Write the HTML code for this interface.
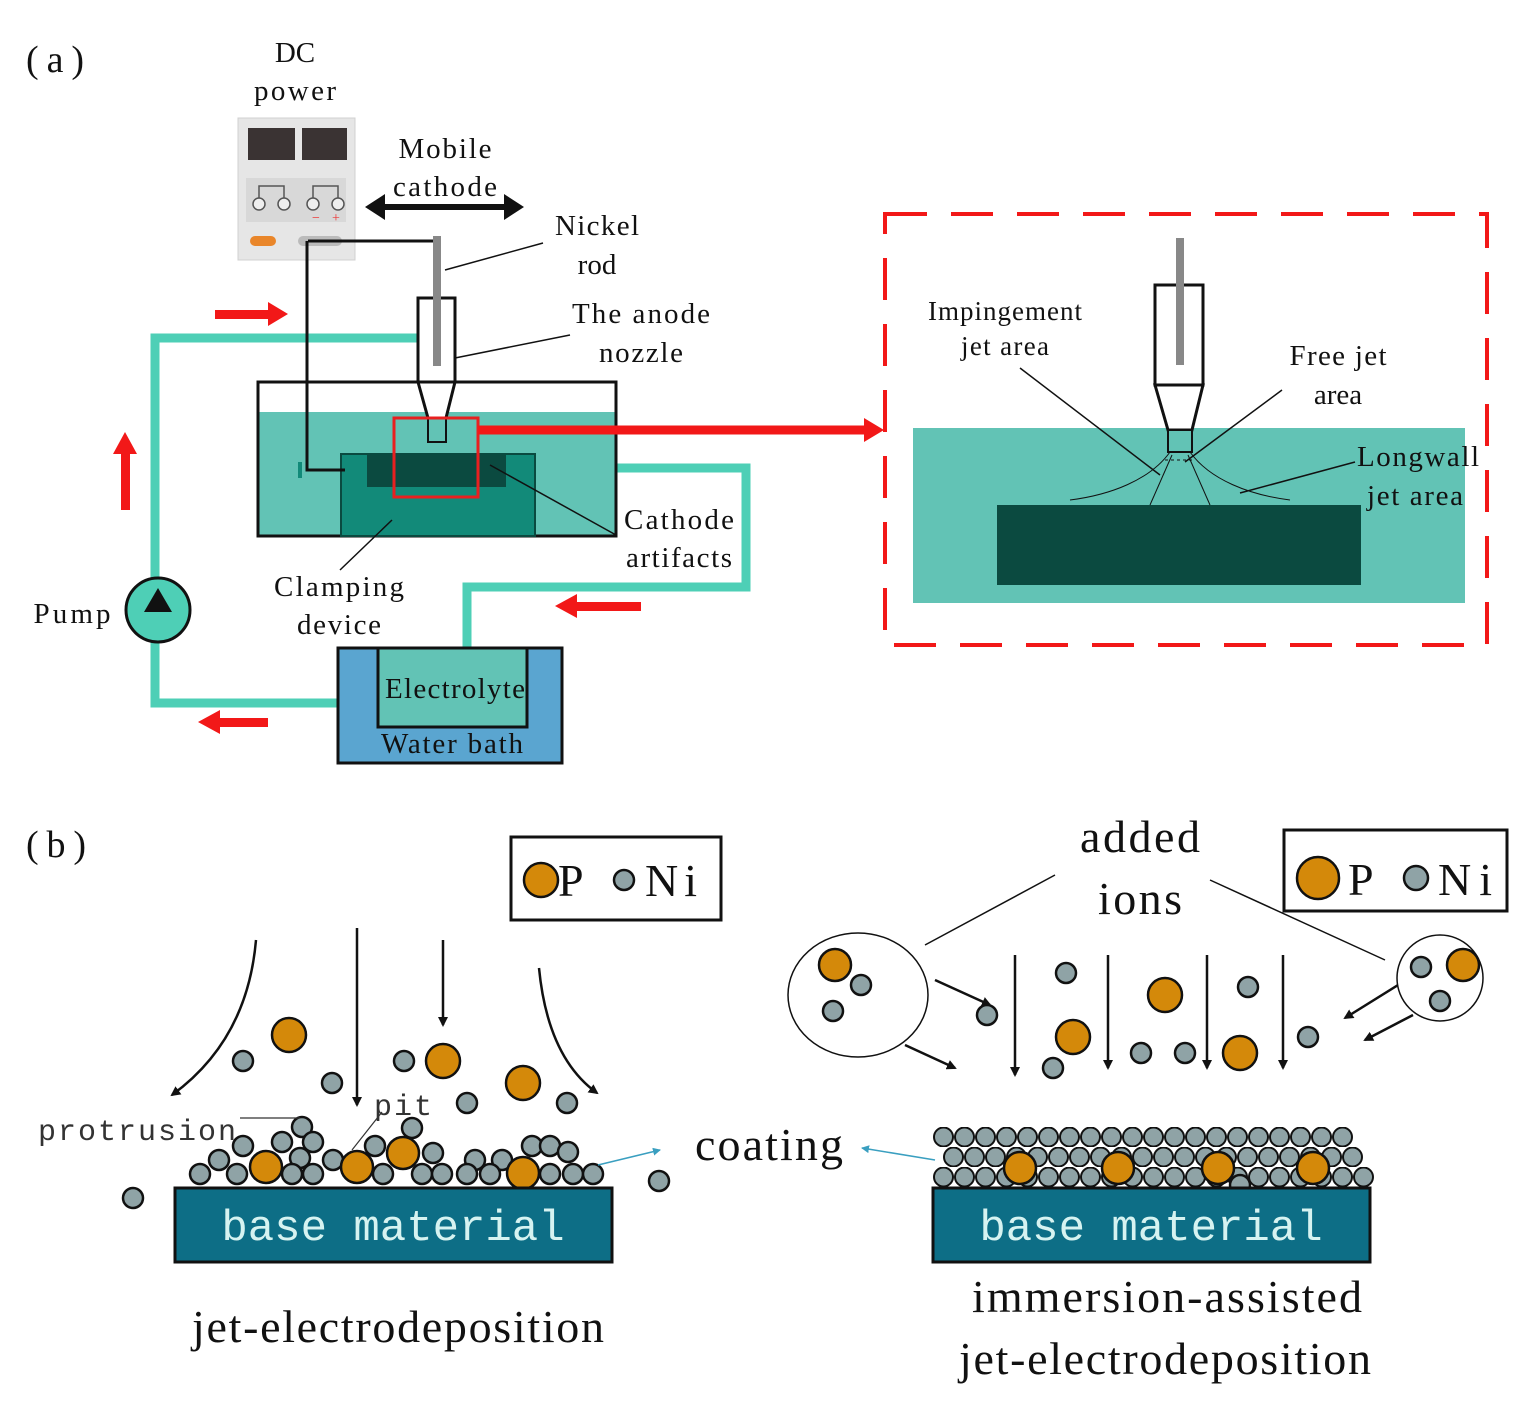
<!DOCTYPE html>
<html><head><meta charset="utf-8"><style>
html,body{margin:0;padding:0;background:#fff;}
svg{display:block;}
text{font-family:"Liberation Serif",serif;fill:#111;}
.m{font-family:"Liberation Mono",monospace;}
</style></head><body>
<svg width="1540" height="1417" viewBox="0 0 1540 1417" xmlns="http://www.w3.org/2000/svg">
<defs>
<marker id="ab" markerWidth="10" markerHeight="10" refX="8" refY="5" orient="auto" markerUnits="userSpaceOnUse"><path d="M0,0 L10,5 L0,10 Z" fill="#111"/></marker>
<marker id="at" markerWidth="8" markerHeight="8" refX="7" refY="4" orient="auto" markerUnits="userSpaceOnUse"><path d="M0,0 L8,4 L0,8 Z" fill="#3a9fc0"/></marker>
<pattern id="ni1" x="933" y="1167" width="21" height="20" patternUnits="userSpaceOnUse"><circle cx="10.5" cy="10" r="9.5" fill="#8fa3a6" stroke="#111" stroke-width="2"/></pattern>
<pattern id="ni2" x="943" y="1127" width="21" height="20" patternUnits="userSpaceOnUse"><circle cx="10.5" cy="10" r="9.5" fill="#8fa3a6" stroke="#111" stroke-width="2"/></pattern>
</defs>

<!-- (a) -->
<text x="26" y="72" font-size="38" textLength="58">(a)</text>
<text x="295" y="62" font-size="29" text-anchor="middle">DC</text>
<text x="295" y="100" font-size="29" text-anchor="middle" textLength="82">power</text>
<rect x="238" y="118" width="117" height="142" fill="#e6e6e6" stroke="#d0d0d0"/>
<rect x="248" y="128" width="47" height="32" fill="#3a3333"/>
<rect x="302" y="128" width="45" height="32" fill="#3a3333"/>
<rect x="246" y="178" width="100" height="44" fill="#d8d8d8"/>
<g stroke="#555" fill="#eee" stroke-width="1.5"><path d="M259,198 v-12 h25 v12" fill="none"/><path d="M313,198 v-12 h25 v12" fill="none"/>
<circle cx="259" cy="204" r="6"/><circle cx="284" cy="204" r="6"/><circle cx="313" cy="204" r="6"/><circle cx="338" cy="204" r="6"/></g>
<text x="312" y="222" font-size="14" style="fill:#e33">−</text><text x="332" y="222" font-size="14" style="fill:#e33">+</text>
<rect x="250" y="236" width="26" height="10" rx="5" fill="#e9862a"/>
<rect x="298" y="236" width="44" height="10" rx="5" fill="#bbb"/>

<text x="445" y="158" font-size="29" text-anchor="middle" textLength="93">Mobile</text>
<text x="445" y="196" font-size="29" text-anchor="middle" textLength="104">cathode</text>
<line x1="380" y1="207" x2="510" y2="207" stroke="#111" stroke-width="6"/>
<path d="M365,207 L385,194 L385,220 Z M524,207 L504,194 L504,220 Z" fill="#111"/>

<g fill="none" stroke="#4ecfb6" stroke-width="9">
<path d="M418,338 H155 V703 H382"/>
<path d="M617,468 H746 V587 H467 V652"/>
</g>
<rect x="258" y="412" width="358" height="124" fill="#62c3b5"/>
<rect x="258" y="382" width="358" height="154" fill="none" stroke="#111" stroke-width="3"/>
<rect x="341" y="454" width="194" height="82" fill="#128a79" stroke="#0a4a40" stroke-width="2"/>
<rect x="367" y="455" width="139" height="32" fill="#0b4a40"/>
<path d="M307,241 V470 H345" fill="none" stroke="#111" stroke-width="3"/>
<line x1="300" y1="462" x2="300" y2="478" stroke="#128a79" stroke-width="4"/>
<path d="M308,241 H437" fill="none" stroke="#111" stroke-width="3"/>
<rect x="418" y="298" width="37" height="84" fill="#fff" stroke="#111" stroke-width="3"/>
<rect x="433" y="236" width="8" height="130" fill="#888"/>
<path d="M418,382 L428,418 L446,418 L455,382 Z" fill="#fff" stroke="#111" stroke-width="3"/>
<rect x="428" y="418" width="18" height="24" fill="#62c3b5" stroke="#111" stroke-width="2"/>
<rect x="394" y="418" width="84" height="79" fill="none" stroke="#e82020" stroke-width="3"/>
<line x1="478" y1="430" x2="866" y2="430" stroke="#f21818" stroke-width="9"/>
<path d="M864,418 L884,430 L864,442 Z" fill="#f21818"/>
<g stroke="#111" stroke-width="1.5">
<line x1="445" y1="270" x2="543" y2="243"/>
<line x1="455" y1="358" x2="570" y2="335"/>
<line x1="490" y1="465" x2="616" y2="535"/>
<line x1="392" y1="520" x2="340" y2="570"/>
</g>
<text x="597" y="235" font-size="29" text-anchor="middle" textLength="84">Nickel</text>
<text x="597" y="274" font-size="29" text-anchor="middle">rod</text>
<text x="641" y="323" font-size="29" text-anchor="middle" textLength="138">The anode</text>
<text x="641" y="362" font-size="29" text-anchor="middle" textLength="84">nozzle</text>
<text x="679" y="529" font-size="29" text-anchor="middle" textLength="110">Cathode</text>
<text x="679" y="567" font-size="29" text-anchor="middle" textLength="106">artifacts</text>
<text x="339" y="596" font-size="29" text-anchor="middle" textLength="130">Clamping</text>
<text x="339" y="634" font-size="29" text-anchor="middle" textLength="84">device</text>
<text x="72" y="623" font-size="29" text-anchor="middle" textLength="77">Pump</text>
<circle cx="158" cy="610" r="32" fill="#4ecfb6" stroke="#111" stroke-width="3"/>
<path d="M158,588 L172,612 L144,612 Z" fill="#111"/>
<rect x="338" y="648" width="224" height="115" fill="#5aa5d0" stroke="#111" stroke-width="3"/>
<rect x="378" y="648" width="149" height="79" fill="#62c3b5" stroke="#111" stroke-width="3"/>
<text x="455" y="698" font-size="29" text-anchor="middle" textLength="140">Electrolyte</text>
<text x="452" y="753" font-size="29" text-anchor="middle" textLength="142">Water bath</text>
<g fill="#f21818">
<rect x="215" y="310" width="55" height="9"/><path d="M268,302 L288,314 L268,326 Z"/>
<rect x="121" y="452" width="9" height="58"/><path d="M113,454 L125,432 L137,454 Z"/>
<rect x="575" y="602" width="66" height="9"/><path d="M577,594 L555,606 L577,618 Z"/>
<rect x="218" y="718" width="50" height="9"/><path d="M220,710 L198,722 L220,734 Z"/>
</g>

<rect x="885" y="214" width="602" height="431" fill="none" stroke="#f21818" stroke-width="4" stroke-dasharray="42,24"/>
<rect x="913" y="428" width="552" height="175" fill="#62c3b5"/>
<rect x="997" y="505" width="364" height="80" fill="#0b4a40"/>
<rect x="1155" y="285" width="48" height="100" fill="#fff" stroke="#111" stroke-width="3"/>
<rect x="1176" y="238" width="8" height="127" fill="#888"/>
<path d="M1155,385 L1168,430 L1192,430 L1203,385 Z" fill="#fff" stroke="#111" stroke-width="3"/>
<rect x="1168" y="430" width="24" height="22" fill="#62c3b5" stroke="#111" stroke-width="2"/>
<g fill="none" stroke="#111" stroke-width="1">
<path d="M1170,452 C1150,480 1110,495 1070,500"/>
<path d="M1190,452 C1210,480 1250,495 1290,500"/>
<path d="M1172,455 L1150,505"/><path d="M1188,455 L1210,505"/>
<path d="M1165,460 H1195" stroke-dasharray="3,3"/>
</g>
<g stroke="#111" stroke-width="1.5">
<line x1="1020" y1="368" x2="1160" y2="475"/>
<line x1="1282" y1="390" x2="1185" y2="462"/>
<line x1="1355" y1="462" x2="1240" y2="493"/>
</g>
<text x="1005" y="320" font-size="27" text-anchor="middle" textLength="154">Impingement</text>
<text x="1005" y="355" font-size="27" text-anchor="middle" textLength="88">jet area</text>
<text x="1338" y="365" font-size="29" text-anchor="middle" textLength="97">Free jet</text>
<text x="1338" y="404" font-size="29" text-anchor="middle">area</text>
<text x="1418" y="466" font-size="29" text-anchor="middle" textLength="122">Longwall</text>
<text x="1415" y="505" font-size="29" text-anchor="middle" textLength="96">jet area</text>

<!-- (b) -->
<text x="26" y="857" font-size="38" textLength="60">(b)</text>
<rect x="511" y="837" width="210" height="83" fill="#fff" stroke="#111" stroke-width="3"/>
<circle cx="541" cy="880" r="17" fill="#d4890a" stroke="#111" stroke-width="2.5"/>
<text x="558" y="896" font-size="46">P</text>
<circle cx="624" cy="880" r="10" fill="#8fa3a6" stroke="#111" stroke-width="2.5"/>
<text x="645" y="896" font-size="46" textLength="52">Ni</text>
<rect x="1284" y="830" width="223" height="81" fill="#fff" stroke="#111" stroke-width="3"/>
<circle cx="1318" cy="878" r="21" fill="#d4890a" stroke="#111" stroke-width="2.5"/>
<text x="1348" y="895" font-size="46">P</text>
<circle cx="1416" cy="878" r="12" fill="#8fa3a6" stroke="#111" stroke-width="2.5"/>
<text x="1438" y="895" font-size="46" textLength="54">Ni</text>

<g fill="none" stroke="#111" stroke-width="2.5" marker-end="url(#ab)">
<line x1="357" y1="928" x2="357" y2="1105"/>
<line x1="443" y1="940" x2="443" y2="1025"/>
<path d="M256,940 C250,1010 220,1060 172,1095"/>
<path d="M539,968 C545,1030 565,1070 597,1093"/>
</g>
<g stroke="#111" stroke-width="2.5">
<g fill="#8fa3a6">
<circle cx="243" cy="1061" r="10"/><circle cx="332" cy="1083" r="10"/><circle cx="404" cy="1061" r="10"/><circle cx="467" cy="1103" r="10"/><circle cx="567" cy="1103" r="10"/><circle cx="133" cy="1198" r="10"/><circle cx="659" cy="1181" r="10"/>
<circle cx="302" cy="1127" r="10"/><circle cx="412" cy="1128" r="10"/>
<circle cx="243" cy="1146" r="10"/><circle cx="282" cy="1142" r="10"/><circle cx="313" cy="1142" r="10"/><circle cx="375" cy="1146" r="10"/><circle cx="532" cy="1146" r="10"/><circle cx="550" cy="1146" r="10"/><circle cx="568" cy="1152" r="10"/>
<circle cx="219" cy="1160" r="10"/><circle cx="300" cy="1158" r="10"/><circle cx="333" cy="1160" r="10"/><circle cx="433" cy="1153" r="10"/><circle cx="475" cy="1160" r="10"/><circle cx="502" cy="1160" r="10"/>
<circle cx="200" cy="1174" r="10"/><circle cx="237" cy="1174" r="10"/><circle cx="292" cy="1174" r="10"/><circle cx="313" cy="1174" r="10"/><circle cx="383" cy="1174" r="10"/><circle cx="422" cy="1174" r="10"/><circle cx="442" cy="1174" r="10"/><circle cx="467" cy="1174" r="10"/><circle cx="490" cy="1174" r="10"/><circle cx="550" cy="1174" r="10"/><circle cx="573" cy="1174" r="10"/><circle cx="593" cy="1174" r="10"/>
</g>
<g fill="#d4890a">
<circle cx="289" cy="1035" r="17"/><circle cx="443" cy="1061" r="17"/><circle cx="523" cy="1083" r="17"/>
<circle cx="266" cy="1167" r="16"/><circle cx="357" cy="1167" r="16"/><circle cx="403" cy="1153" r="16"/><circle cx="523" cy="1173" r="16"/>
</g></g>
<g stroke="#333" stroke-width="1.2"><line x1="240" y1="1118" x2="300" y2="1118"/><line x1="352" y1="1150" x2="382" y2="1112"/></g>
<text class="m" x="38" y="1140" font-size="30" style="fill:#333" textLength="198">protrusion</text>
<text class="m" x="374" y="1115" font-size="30" style="fill:#333" textLength="58">pit</text>
<rect x="175" y="1188" width="437" height="74" fill="#0d6e86" stroke="#111" stroke-width="3"/>
<text class="m" x="393" y="1240" font-size="44" text-anchor="middle" style="fill:#d6f3f1">base material</text>
<text x="398" y="1342" font-size="46" text-anchor="middle" textLength="412">jet-electrodeposition</text>

<text x="769" y="1160" font-size="46" text-anchor="middle" textLength="148">coating</text>
<line x1="598" y1="1165" x2="660" y2="1150" stroke="#3a9fc0" stroke-width="1.5" marker-end="url(#at)"/>
<line x1="935" y1="1160" x2="862" y2="1148" stroke="#3a9fc0" stroke-width="1.5" marker-end="url(#at)"/>

<text x="1140" y="852" font-size="46" text-anchor="middle" textLength="120">added</text>
<text x="1140" y="914" font-size="46" text-anchor="middle" textLength="84">ions</text>
<g stroke="#111" stroke-width="1.5"><line x1="925" y1="945" x2="1055" y2="875"/><line x1="1210" y1="880" x2="1385" y2="960"/></g>
<ellipse cx="858" cy="995" rx="70" ry="62" fill="#fff" stroke="#111" stroke-width="1.5"/>
<circle cx="1440" cy="978" r="43" fill="#fff" stroke="#111" stroke-width="1.5"/>
<g fill="none" stroke="#111" stroke-width="2.5" marker-end="url(#ab)">
<line x1="935" y1="980" x2="990" y2="1005"/><line x1="905" y1="1045" x2="955" y2="1068"/>
<line x1="1398" y1="985" x2="1345" y2="1018"/><line x1="1413" y1="1015" x2="1365" y2="1040"/>
<line x1="1015" y1="955" x2="1015" y2="1075"/><line x1="1108" y1="955" x2="1108" y2="1068"/>
<line x1="1207" y1="955" x2="1207" y2="1068"/><line x1="1283" y1="955" x2="1283" y2="1068"/>
</g>
<rect x="933" y="1167" width="441" height="20" fill="url(#ni1)"/>
<rect x="943" y="1147" width="420" height="20" fill="url(#ni2)"/>
<rect x="933" y="1127" width="420" height="20" fill="url(#ni1)"/>
<g stroke="#111" stroke-width="2.5">
<g fill="#8fa3a6">
<circle cx="861" cy="985" r="10"/><circle cx="833" cy="1011" r="10"/><circle cx="1421" cy="967" r="10"/><circle cx="1440" cy="1001" r="10"/>
<circle cx="987" cy="1015" r="10"/><circle cx="1066" cy="973" r="10"/><circle cx="1053" cy="1068" r="10"/><circle cx="1141" cy="1053" r="10"/><circle cx="1185" cy="1053" r="10"/><circle cx="1248" cy="987" r="10"/><circle cx="1308" cy="1037" r="10"/><circle cx="1240" cy="1185" r="10"/>
</g>
<g fill="#d4890a">
<circle cx="835" cy="965" r="16"/><circle cx="1463" cy="965" r="16"/>
<circle cx="1073" cy="1037" r="17"/><circle cx="1165" cy="995" r="17"/><circle cx="1240" cy="1053" r="17"/>
<circle cx="1020" cy="1168" r="16"/><circle cx="1118" cy="1168" r="16"/><circle cx="1218" cy="1168" r="16"/><circle cx="1313" cy="1168" r="16"/>
</g></g>
<rect x="933" y="1188" width="437" height="74" fill="#0d6e86" stroke="#111" stroke-width="3"/>
<text class="m" x="1151" y="1240" font-size="44" text-anchor="middle" style="fill:#d6f3f1">base material</text>
<text x="1167" y="1312" font-size="46" text-anchor="middle" textLength="390">immersion-assisted</text>
<text x="1165" y="1374" font-size="46" text-anchor="middle" textLength="412">jet-electrodeposition</text>
</svg>
</body></html>
